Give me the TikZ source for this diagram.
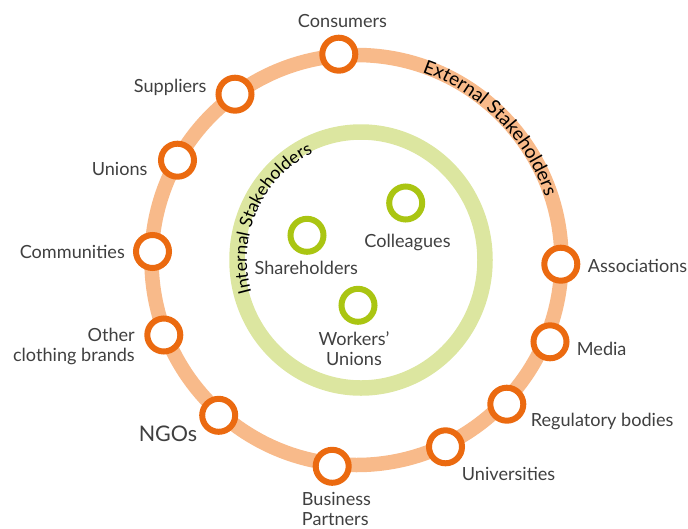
\documentclass[tikz,border=0pt]{standalone}
\usepackage{fontspec}
\setmainfont{Lato}
\usetikzlibrary{decorations.text}
\definecolor{ringor}{HTML}{F8BA8A}
\definecolor{dotor}{HTML}{EB6A10}
\definecolor{ringgr}{HTML}{DCE6A0}
\definecolor{dotgr}{HTML}{AAC512}
\definecolor{lab}{HTML}{404040}
\newcommand\curvefontext{\fontsize{19}{22}\selectfont}
\newcommand\curvefontint{\fontsize{17.8}{21}\selectfont}
\begin{document}
\begin{tikzpicture}[x=1pt,y=1pt,
  extdot/.style={circle, draw=dotor, line width=6pt, fill=white, minimum size=33pt, inner sep=0pt},
  intdot/.style={circle, draw=dotgr, line width=6pt, fill=white, minimum size=33pt, inner sep=0pt},
  lbl/.style={font=\fontsize{18.1}{19.4}\selectfont, text=lab, inner sep=0pt},
  biglbl/.style={font=\fontsize{21.5}{24}\selectfont, text=lab, inner sep=0pt},
  ringtext/.style={decorate, decoration={text along path, text align=center}}
]
\useasboundingbox (0,0) rectangle (688,-528);
% rings
\coordinate (oc) at (356.5,-260);
\coordinate (ic) at (361,-260);
\draw[ringor, line width=14.5pt] (oc) circle[radius=205];
\draw[ringgr, line width=15.5pt] (ic) ellipse[x radius=124, y radius=128];
% curved titles
\path[ringtext, decoration={text={|\curvefontext|External Stakeholders}}]
  (oc) ++(134.6:199) arc[start angle=134.6, end angle=-45.4, radius=199];
\path[ringtext, decoration={text={|\curvefontint|Internal Stakeholders}}]
  (ic) ++(245:114 and 118) arc[start angle=245, end angle=65, x radius=114, y radius=118];
% external dots
\node[extdot] (consumers) at (338.8,-54.2) {};
\node[extdot] (suppliers) at (235,-94.2) {};
\node[extdot] (unions) at (177.5,-160.2) {};
\node[extdot] (communities) at (152.5,-251.5) {};
\node[extdot] (other) at (163.8,-335) {};
\node[extdot] (ngos) at (218.7,-415.3) {};
\node[extdot] (business) at (332.2,-466.3) {};
\node[extdot] (universities) at (445.5,-446.8) {};
\node[extdot] (regulatory) at (506.8,-404.2) {};
\node[extdot] (media) at (550,-341.8) {};
\node[extdot] (associations) at (560.8,-264.2) {};
% internal dots
\node[intdot] (colleagues) at (405.7,-203) {};
\node[intdot] (shareholders) at (307,-235.3) {};
\node[intdot] (workers) at (358,-305.3) {};
% labels
\node[lbl, anchor=base] (lconsumers) at (342.5,-27.3) {Consumers};
\node[lbl, anchor=base east] (lsuppliers) at (206.7,-92.3) {Suppliers};
\node[lbl, anchor=base east] (lunions) at (147.7,-175) {Unions};
\node[lbl, anchor=base east] (lcommunities) at (125,-258.3) {Communities};
\node[lbl, anchor=base east, align=right] (lother) at (135,-361) {Other\\clothing brands};
\node[biglbl, anchor=base] (lngos) at (168,-441.7) {NGOs};
\node[lbl, anchor=base west, align=left] (lbusiness) at (301.7,-525) {Business\\Partners};
\node[lbl, anchor=base west] (luniversities) at (461.7,-480) {Universities};
\node[lbl, anchor=base west] (lregulatory) at (530.7,-426.7) {Regulatory bodies};
\node[lbl, anchor=base west] (lmedia) at (576.7,-355) {Media};
\node[lbl, anchor=base west] (lassociations) at (587.7,-272.3) {Associations};
\node[lbl, anchor=base] (lcolleagues) at (407.5,-247.7) {Colleagues};
\node[lbl, anchor=base] (lshareholders) at (306.3,-274) {Shareholders};
\node[lbl, anchor=base, align=center] (lworkers) at (354,-365) {Workers’\\Unions};
\end{tikzpicture}
\end{document}
